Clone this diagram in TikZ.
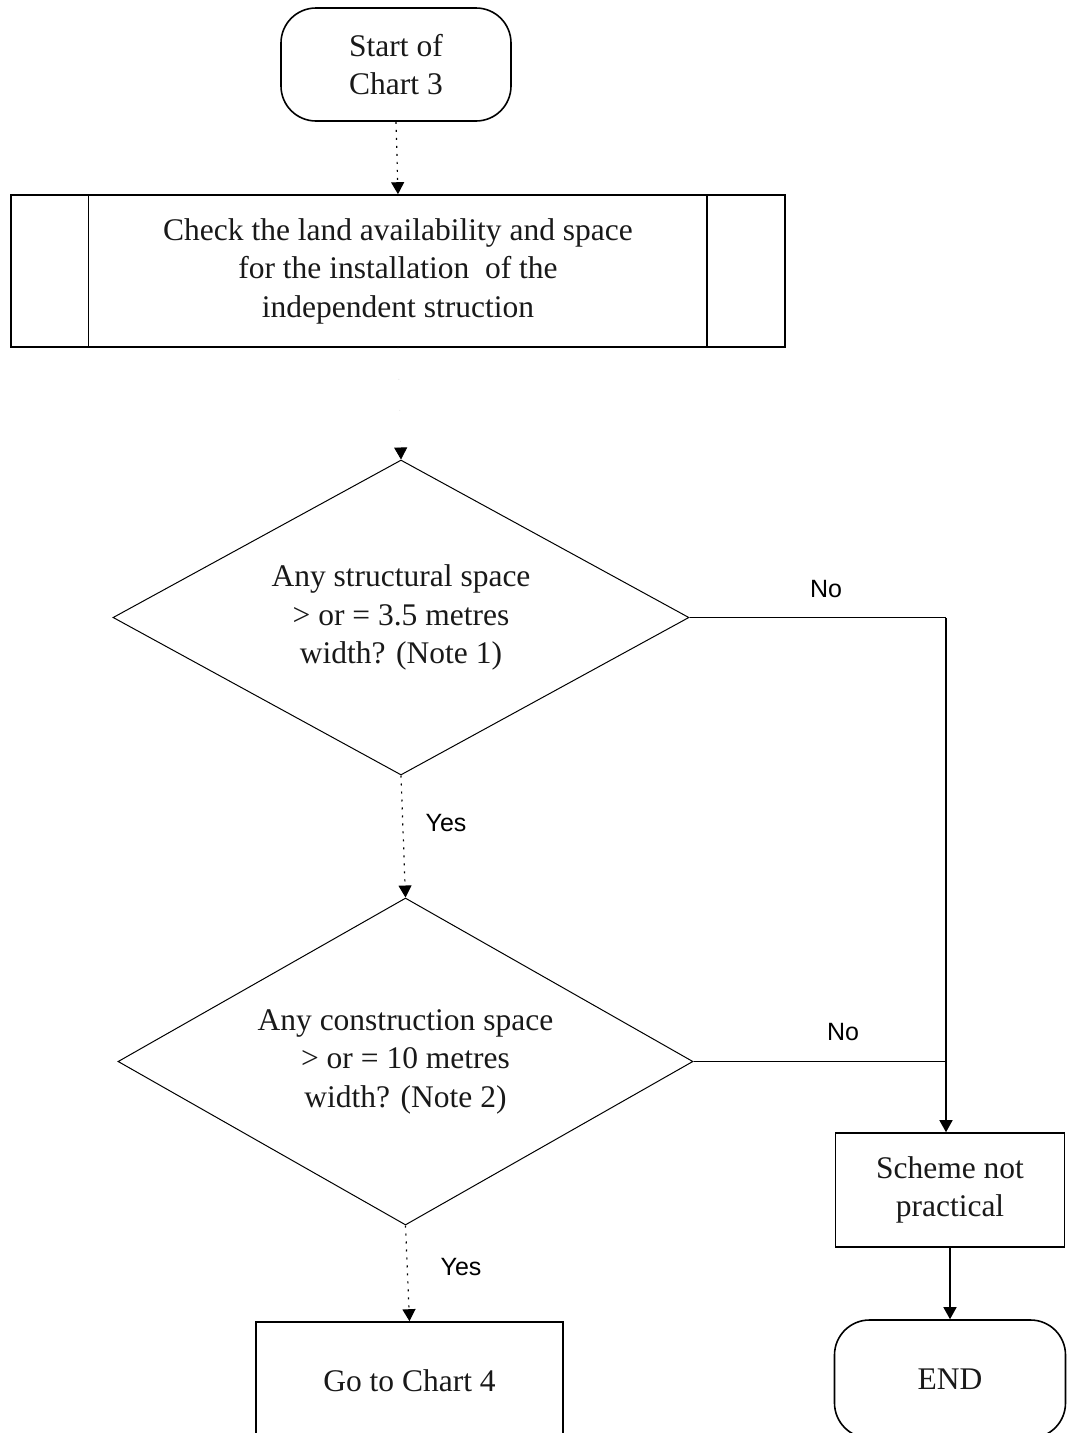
\documentclass[tikz,border=0pt]{standalone}
\usepackage{fontspec}
\setmainfont{Liberation Serif}
\newfontfamily\lblfont{Liberation Sans}
\usetikzlibrary{shapes.geometric,arrows.meta}
\begin{document}
\begin{tikzpicture}[x=1pt,y=-1pt,
  txt/.style={font=\fontsize{31.5}{38.5}\selectfont, align=center, text=black!90},
  term/.style={txt, draw, line width=1.6pt, rounded corners=35pt, inner sep=0pt},
  procbox/.style={txt, draw, line width=1.6pt, inner sep=0pt},
  decide/.style={txt, draw, shape=diamond, line width=1pt, inner sep=0pt, aspect=1.83},
  lbl/.style={font=\lblfont\fontsize{25}{30}\selectfont, inner sep=0pt},
  tip/.style={-{Triangle[width=13pt,length=12pt,color=black,fill=black]}},
  solidarrow/.style={line width=1.4pt, tip},
  dotarrow/.style={line width=1.2pt, dash pattern=on 2pt off 6pt, tip},
  faintarrow/.style={line width=0.8pt, draw=black!10, dash pattern=on 1pt off 30pt, tip},
  conn/.style={line width=1.4pt}
]
\useasboundingbox (0,0) rectangle (1070,1433);
\clip (0,0) rectangle (1070,1433);

% nodes
\node[term, minimum width=230pt, minimum height=113pt] (start) at (396,64.5) {Start of\\Chart 3};
\node[procbox, minimum width=774pt, minimum height=152pt] (check) at (398,271)
  {Check the land availability and space\\for the installation\ \ of the\\independent struction};
\draw[line width=1.4pt] ([xshift=78pt]check.north west) -- ([xshift=78pt]check.south west);
\draw[line width=1.4pt] ([xshift=-79pt]check.north east) -- ([xshift=-79pt]check.south east);

\node[decide, minimum width=576pt, minimum height=315pt] (d1) at (401,617.5)
  {\raisebox{-3pt}{\parbox{300pt}{\centering Any structural space\\> or = 3.5 metres\\width? (Note 1)}}};
\node[decide, minimum width=575pt, minimum height=327pt] (d2) at (405.5,1061.5)
  {\raisebox{-3pt}{\parbox{300pt}{\centering Any construction space\\> or = 10 metres\\width? (Note 2)}}};

\node[procbox, minimum width=229pt, minimum height=114pt] (scheme) at (950,1190)
  {Scheme not\\practical};
\node[term, minimum width=231pt, minimum height=118pt] (end) at (950,1379) {END};
\node[procbox, minimum width=307pt, minimum height=118pt] (goto) at (409.5,1381) {Go to Chart 4};

\coordinate (c1) at (946,617.5);
\coordinate (c2) at (946,1061.5);

% connectors
\draw[dotarrow] (start.south) -- (check.north);
\draw[faintarrow] (check.south) -- (d1.north);
\draw[conn] (d1.east) -- (c1);
\draw[solidarrow] (c1) -- (scheme.north -| c1);
\draw[conn] (d2.east) -- (c2);
\draw[dotarrow] (d1.south) -- (d2.north);
\draw[dotarrow] (d2.south) -- (goto.north);
\draw[solidarrow] (scheme.south) -- (end.north);

% labels
\node[lbl] (no1) at (826,589) {No};
\node[lbl] (no2) at (843,1032) {No};
\node[lbl] (yes1) at (446,823) {Yes};
\node[lbl] (yes2) at (461,1267) {Yes};
\end{tikzpicture}
\end{document}
